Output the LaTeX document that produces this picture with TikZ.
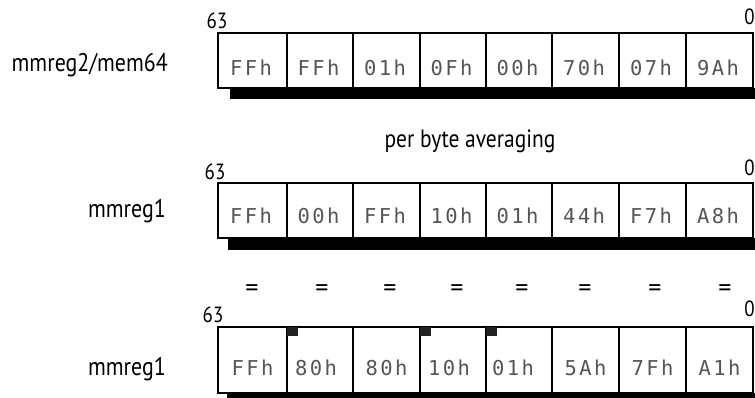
\documentclass[tikz,border=0pt]{standalone}
\usepackage{fontspec}
\newfontfamily\labfont[FakeStretch=0.86]{PT Sans}
\newfontfamily\eqfont{PT Sans}
\newfontfamily\monofont[LetterSpace=12]{DejaVu Sans Mono}
\definecolor{celltxt}{HTML}{555555}
\definecolor{markc}{HTML}{222222}
\begin{document}
\begin{tikzpicture}[x=1pt,y=-1pt,
  cellbox/.style={draw=black,line width=1.6pt,fill=white},
  divider/.style={line width=1.6pt},
  shadowbar/.style={fill=black},
  celltext/.style={font=\monofont\fontsize{20.5}{22}\selectfont,text=celltxt,anchor=base,inner sep=0pt},
  reglabel/.style={font=\labfont\fontsize{25.5}{27}\selectfont,anchor=base east,inner sep=0pt},
  bitlabel/.style={font=\labfont\fontsize{22}{24}\selectfont,inner sep=0pt},
  zerolabel/.style={font=\labfont\fontsize{22}{24}\selectfont,inner sep=0pt,anchor=east},
  eqlabel/.style={font=\eqfont\fontsize{26}{28}\selectfont,inner sep=0pt},
  capt/.style={font=\labfont\fontsize{25}{27}\selectfont,anchor=base,inner sep=0pt},
  bitmark/.style={fill=markc}]
\useasboundingbox (0,0) rectangle (755,398);
% ---------- row 1 ----------
\fill[shadowbar] (230,88) rectangle (770,99);
\draw[cellbox] (218,33) rectangle (753,88);
\foreach \xx in {287,353,420,486,552,619,686}{\draw[divider] (\xx,33) -- (\xx,88);}
\node[reglabel] (l1) at (168,72) {mmreg2/mem64};
\node[bitlabel] (h1) at (217,21) {63};
\node[zerolabel] (z1) at (755,17) {0};
\foreach \t/\xc [count=\i] in {FFh/252.5,FFh/320,01h/386.5,0Fh/453,00h/519,70h/585.5,07h/652.5,9Ah/719.5}{
  \node[celltext] (a\i) at (\xc-1.5,76) {\t};}
% ---------- caption ----------
\node[capt] (cap) at (470,148) {per byte averaging};
% ---------- row 2 ----------
\fill[shadowbar] (228,238) rectangle (770,250);
\draw[cellbox] (218,183) rectangle (753,238);
\foreach \xx in {287,353,420,486,552,619,686}{\draw[divider] (\xx,183) -- (\xx,238);}
\node[reglabel] (l2) at (166,218) {mmreg1};
\node[bitlabel] (h2) at (215,172) {63};
\node[zerolabel] (z2) at (755,168) {0};
\foreach \t/\xc [count=\i] in {FFh/252.5,00h/320,FFh/386.5,10h/453,01h/519,44h/585.5,F7h/652.5,A8h/719.5}{
  \node[celltext] (b\i) at (\xc-1.5,224) {\t};}
% ---------- equals ----------
\foreach \x [count=\i] in {252,322,390,457,522,585,655,725}{
  \node[eqlabel] (e\i) at (\x,291) {=};}
% ---------- row 3 ----------
\fill[shadowbar] (227,393) rectangle (770,405);
\draw[cellbox] (218,327) rectangle (753,393);
\foreach \xx in {287,353,420,486,552,619,686}{\draw[divider] (\xx,327) -- (\xx,393);}
\foreach \xx in {287,420,486}{\fill[bitmark] (\xx,327) rectangle (\xx+11,336);}
\node[reglabel] (l3) at (166,375) {mmreg1};
\node[bitlabel] (h3) at (213,315) {63};
\node[zerolabel] (z3) at (755,309) {0};
\foreach \t/\xc [count=\i] in {FFh/252.5,80h/316,80h/386.5,10h/449,01h/513,5Ah/585.5,7Fh/652.5,A1h/719.5}{
  \node[celltext] (c\i) at (\xc,375) {\t};}
\end{tikzpicture}
\end{document}
